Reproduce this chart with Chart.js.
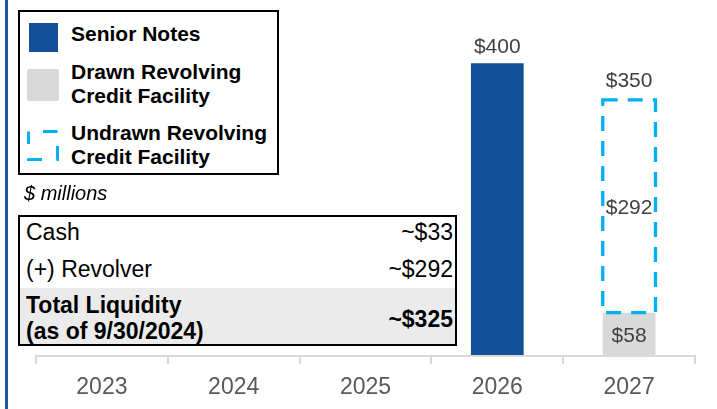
<!DOCTYPE html>
<html lang="en">
<head>
<meta charset="UTF-8">
<title>Debt Maturities and Liquidity</title>
<script src="https://cdn.jsdelivr.net/npm/chart.js"></script>
<style>
  body { margin: 0; background: #fff; font-family: "Liberation Sans", Arial, sans-serif; color: #000; }
  .wrap { position: relative; width: 717px; height: 409px; overflow: hidden; }
  #maturityChart { position: absolute; left: 0; top: 0; }
  .side-rule { position: absolute; left: 5px; top: 0; width: 3px; height: 409px; background: #1a5aa3; }

  .legend-box { position: absolute; left: 18px; top: 10px; width: 261px; height: 165px;
                box-sizing: border-box; border: 2px solid #000; background: #fff; }
  .legend-swatch { position: absolute; box-sizing: border-box; }
  .legend-text { position: absolute; left: 51px; width: 205px; font-size: 21px; font-weight: bold;
                 line-height: 24px; white-space: normal; }

  .units { position: absolute; left: 24px; top: 181px; font-size: 20px; font-style: italic; line-height: 24px; }

  .liq-box { position: absolute; left: 18px; top: 215px; width: 439px; height: 131px;
             box-sizing: border-box; border: 2px solid #000; background: #fff; }
  .liq-total-bg { position: absolute; left: 0; right: 0; top: 71px; bottom: 0; background: #ebebeb; }
  .liq-cell { position: absolute; font-size: 23px; line-height: 26px; white-space: nowrap; }
  .liq-cell.left { left: 6px; }
  .liq-cell.right { right: 2px; text-align: right; }
  .liq-cell.bold { font-weight: bold; }
</style>
</head>
<body>
<div class="wrap">
  <canvas id="maturityChart" width="717" height="409"></canvas>
  <div class="side-rule"></div>
  <div class="legend-box" id="legendBox"></div>
  <div class="units">$ millions</div>
  <div class="liq-box" id="liqBox"><div class="liq-total-bg"></div></div>
</div>

<script>
  // Maturity years and amounts ($ millions)
  const categories = ['2023', '2024', '2025', '2026', '2027'];
  const seniorNotes = [null, null, null, 400, null];
  const drawnRevolver = [null, null, null, null, 58];
  const undrawnRevolver = [null, null, null, null, 292];
  const seriesNames = ['Senior Notes', 'Drawn Revolving Credit Facility', 'Undrawn Revolving Credit Facility'];

  // Liquidity table
  const liquidityLabels = ['Cash', '(+) Revolver'];
  const liquidityValues = [33, 292];
  const totalLabelLines = ['Total Liquidity', '(as of 9/30/2024)'];

  const BLUE = '#12509a';
  const GRAY = '#d9d9d9';
  const CYAN = '#00b0f0';
  const LABEL_FONT = '21px "Liberation Sans", Arial, sans-serif';

  function money(v) { return '$' + v; }

  // gray axis line with tick marks on category boundaries
  const axisPlugin = {
    id: 'categoryAxis',
    beforeDatasetsDraw(chart) {
      const { ctx, chartArea, scales: { x, y } } = chart;
      const base = y.getPixelForValue(0);
      const step = x.getPixelForValue(1) - x.getPixelForValue(0);
      const first = x.getPixelForValue(0) - step / 2;
      ctx.save();
      ctx.strokeStyle = '#d9d9d9';
      ctx.lineWidth = 2;
      ctx.beginPath();
      ctx.moveTo(chartArea.left, base + 1);
      ctx.lineTo(chartArea.right, base + 1);
      for (let i = 0; i <= categories.length; i++) {
        const px = Math.round(first + i * step);
        ctx.moveTo(px, base);
        ctx.lineTo(px, base + 9);
      }
      ctx.stroke();
      ctx.restore();
    }
  };

  // dashed outline for the undrawn revolver + value labels
  const barDecorPlugin = {
    id: 'barDecor',
    afterDatasetsDraw(chart) {
      const { ctx } = chart;
      ctx.save();

      const undrawnMeta = chart.getDatasetMeta(2);
      undrawnMeta.data.forEach((el, i) => {
        if (undrawnRevolver[i] == null) return;
        const { x, y, base, width } = el.getProps(['x', 'y', 'base', 'width'], true);
        ctx.strokeStyle = CYAN;
        ctx.lineWidth = 3.3;
        ctx.setLineDash([15, 10]);
        ctx.strokeRect(x - width / 2, y, width, base - y);
        ctx.setLineDash([]);
      });

      ctx.font = LABEL_FONT;
      ctx.fillStyle = '#404040';
      ctx.textAlign = 'center';
      ctx.textBaseline = 'middle';

      chart.getDatasetMeta(0).data.forEach((el, i) => {
        if (seniorNotes[i] == null) return;
        const { x, y } = el.getProps(['x', 'y'], true);
        ctx.fillText(money(seniorNotes[i]), x, y - 16);
      });

      chart.getDatasetMeta(1).data.forEach((el, i) => {
        if (drawnRevolver[i] == null) return;
        const { x, y, base } = el.getProps(['x', 'y', 'base'], true);
        ctx.fillText(money(drawnRevolver[i]), x, (y + base) / 2 + 2);
      });

      undrawnMeta.data.forEach((el, i) => {
        if (undrawnRevolver[i] == null) return;
        const { x, y, base } = el.getProps(['x', 'y', 'base'], true);
        ctx.fillText(money(undrawnRevolver[i]), x, (y + base) / 2 + 2);
        const total = (drawnRevolver[i] || 0) + undrawnRevolver[i];
        ctx.fillText(money(total), x, y - 19);
      });

      ctx.restore();
    }
  };

  const chart = new Chart(document.getElementById('maturityChart'), {
    type: 'bar',
    data: {
      labels: categories,
      datasets: [
        { label: seriesNames[0], data: seniorNotes, backgroundColor: BLUE },
        { label: seriesNames[1], data: drawnRevolver, backgroundColor: GRAY },
        { label: seriesNames[2], data: undrawnRevolver, backgroundColor: 'rgba(0,0,0,0)', borderWidth: 0 }
      ]
    },
    options: {
      responsive: false,
      animation: false,
      layout: { padding: { left: 36, right: 22, top: 5, bottom: 0 } },
      datasets: { bar: { barPercentage: 0.4, categoryPercentage: 1 } },
      plugins: { legend: { display: false }, tooltip: { enabled: false } },
      scales: {
        x: {
          stacked: true,
          grid: { display: false, drawTicks: false },
          border: { display: false },
          ticks: {
            color: '#595959',
            padding: 19,
            font: { family: '"Liberation Sans", Arial, sans-serif', size: 23 }
          },
          afterFit(scale) { scale.height = 54; }
        },
        y: {
          stacked: true,
          display: false,
          min: 0,
          max: 480
        }
      }
    },
    plugins: [axisPlugin, barDecorPlugin]
  });

  // HTML legend built from the datasets
  const legendBox = document.getElementById('legendBox');
  const swatches = [
    { left: 9, top: 11, w: 29, h: 29, css: 'background:' + BLUE },
    { left: 7, top: 57, w: 32, h: 32, css: 'background:' + GRAY + ';border-radius:2px' },
    { left: 7, top: 118, w: 32, h: 31, dashed: true }
  ];
  const textTops = [10, 48, 109];
  chart.data.datasets.forEach((ds, i) => {
    const s = swatches[i];
    const sw = document.createElement('div');
    sw.className = 'legend-swatch';
    sw.style.cssText = `left:${s.left}px;top:${s.top}px;width:${s.w}px;height:${s.h}px;` + (s.css || '');
    if (s.dashed) {
      // one dash per side, starting with a gap at the top-left corner
      const half = (s.w - 3) / 2;
      sw.innerHTML = `<svg width="${s.w}" height="${s.h}"><rect x="1.5" y="1.5" width="${s.w - 3}" height="${s.h - 3}"
        fill="none" stroke="${CYAN}" stroke-width="3" stroke-dasharray="${half} ${half}" stroke-dashoffset="${half}"/></svg>`;
    }
    legendBox.appendChild(sw);
    const txt = document.createElement('div');
    txt.className = 'legend-text';
    txt.style.top = textTops[i] + 'px';
    txt.textContent = ds.label;
    legendBox.appendChild(txt);
  });

  // liquidity table
  const liqBox = document.getElementById('liqBox');
  const rowTops = [2, 39];
  function cell(cls, top, html) {
    const d = document.createElement('div');
    d.className = 'liq-cell ' + cls;
    d.style.top = top + 'px';
    d.innerHTML = html;
    liqBox.appendChild(d);
  }
  liquidityLabels.forEach((label, i) => {
    cell('left', rowTops[i], label);
    cell('right', rowTops[i], '~' + money(liquidityValues[i]));
  });
  const totalLiquidity = liquidityValues.reduce((a, b) => a + b, 0);
  cell('left bold', 75, totalLabelLines.join('<br>'));
  cell('right bold', 89, '~' + money(totalLiquidity));
</script>
</body>
</html>
